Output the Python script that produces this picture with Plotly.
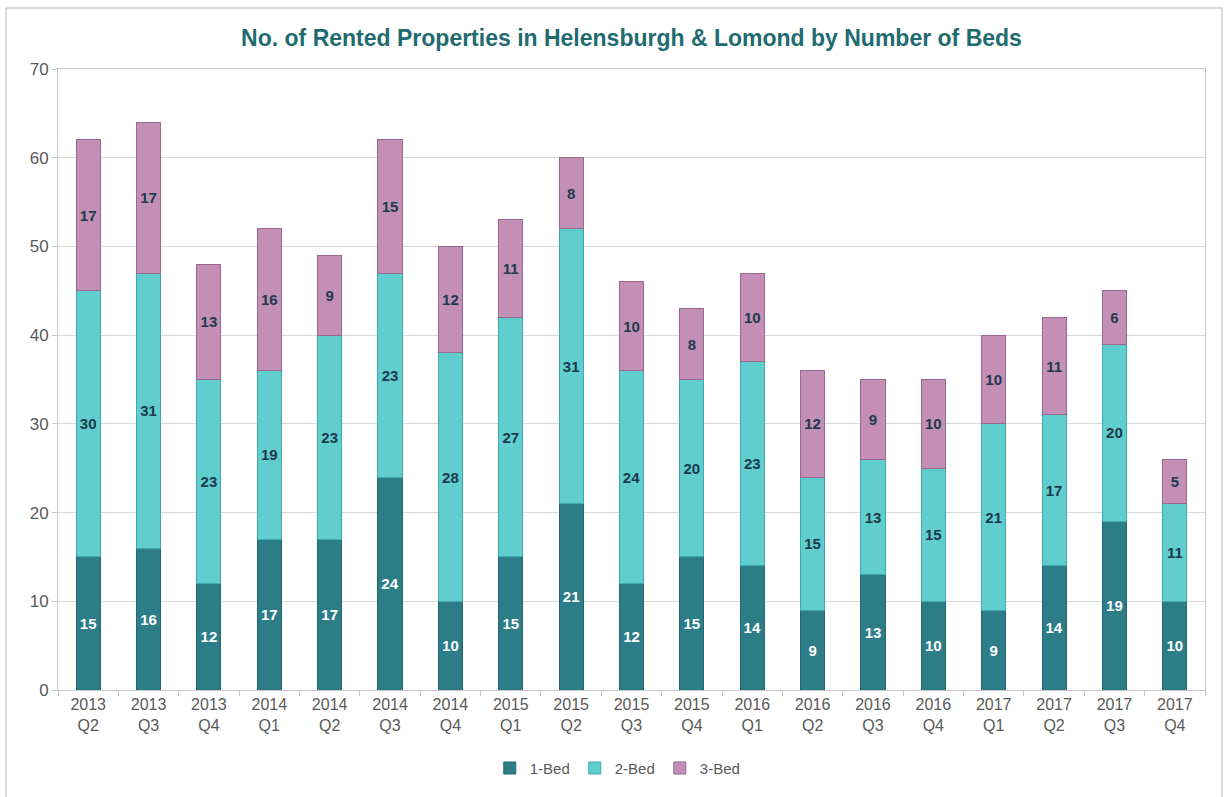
import plotly.graph_objects as go

quarters = ["2013<br>Q2", "2013<br>Q3", "2013<br>Q4", "2014<br>Q1", "2014<br>Q2", "2014<br>Q3",
            "2014<br>Q4", "2015<br>Q1", "2015<br>Q2", "2015<br>Q3", "2015<br>Q4", "2016<br>Q1",
            "2016<br>Q2", "2016<br>Q3", "2016<br>Q4", "2017<br>Q1", "2017<br>Q2", "2017<br>Q3",
            "2017<br>Q4"]
bed1 = [15, 16, 12, 17, 17, 24, 10, 15, 21, 12, 15, 14, 9, 13, 10, 9, 14, 19, 10]
bed2 = [30, 31, 23, 19, 23, 23, 28, 27, 31, 24, 20, 23, 15, 13, 15, 21, 17, 20, 11]
bed3 = [17, 17, 13, 16, 9, 15, 12, 11, 8, 10, 8, 10, 12, 9, 10, 10, 11, 6, 5]

series = [
    ("1-Bed", bed1, "#2c7d88", "#226670", "#ffffff"),
    ("2-Bed", bed2, "#60cdcf", "#3faab0", "#1d3a4c"),
    ("3-Bed", bed3, "#c38fb7", "#98698e", "#1d3a4c"),
]

fig = go.Figure()
for name, vals, fill, edge, tcol in series:
    fig.add_trace(go.Bar(
        x=quarters, y=vals, name=name,
        marker=dict(color=fill, line=dict(color=edge, width=1)),
        text=vals, textposition="inside", insidetextanchor="middle",
        textangle=0,
        textfont=dict(family="Liberation Sans", size=15, color=tcol, weight="bold"),
    ))

fig.update_layout(
    width=1224, height=797,
    barmode="stack", bargap=0.6,
    plot_bgcolor="#ffffff", paper_bgcolor="#ffffff",
    margin=dict(l=58, r=19, t=69, b=107),
    font=dict(family="Liberation Sans", color="#595959"),
    title=dict(
        text="<b>No. of Rented Properties in Helensburgh &amp; Lomond by Number of Beds</b>",
        x=0.5, xref="paper", xanchor="center", y=0.952, yanchor="middle",
        font=dict(family="Liberation Sans", size=23, color="#1f6b70"),
    ),
    uniformtext=dict(minsize=10, mode="show"),
    legend=dict(
        orientation="h", x=0.488, xanchor="center", y=-0.126, yanchor="middle",
        font=dict(size=15, color="#595959"), traceorder="normal",
        itemwidth=30,
    ),
    xaxis=dict(
        showline=True, linecolor="#c8c8c8", linewidth=1, mirror=True,
        ticks="outside", tickson="boundaries", ticklen=5, tickcolor="#c8c8c8",
        tickfont=dict(size=16, color="#595959"),
        showgrid=False, automargin=False,
    ),
    yaxis=dict(
        range=[0, 70], dtick=10,
        showline=True, linecolor="#c8c8c8", linewidth=1, mirror=True,
        gridcolor="#d9d9d9", gridwidth=1,
        ticks="outside", ticklen=5, tickcolor="#c8c8c8",
        tickfont=dict(size=17, color="#595959"),
        zeroline=False, automargin=False,
    ),
    shapes=[dict(
        type="rect", xref="paper", yref="paper",
        x0=-0.0453, x1=1.0148, y0=-0.2, y1=1.0981,
        line=dict(color="#d0d0d0", width=1.5),
    )],
)

fig.write_html("out.html")
